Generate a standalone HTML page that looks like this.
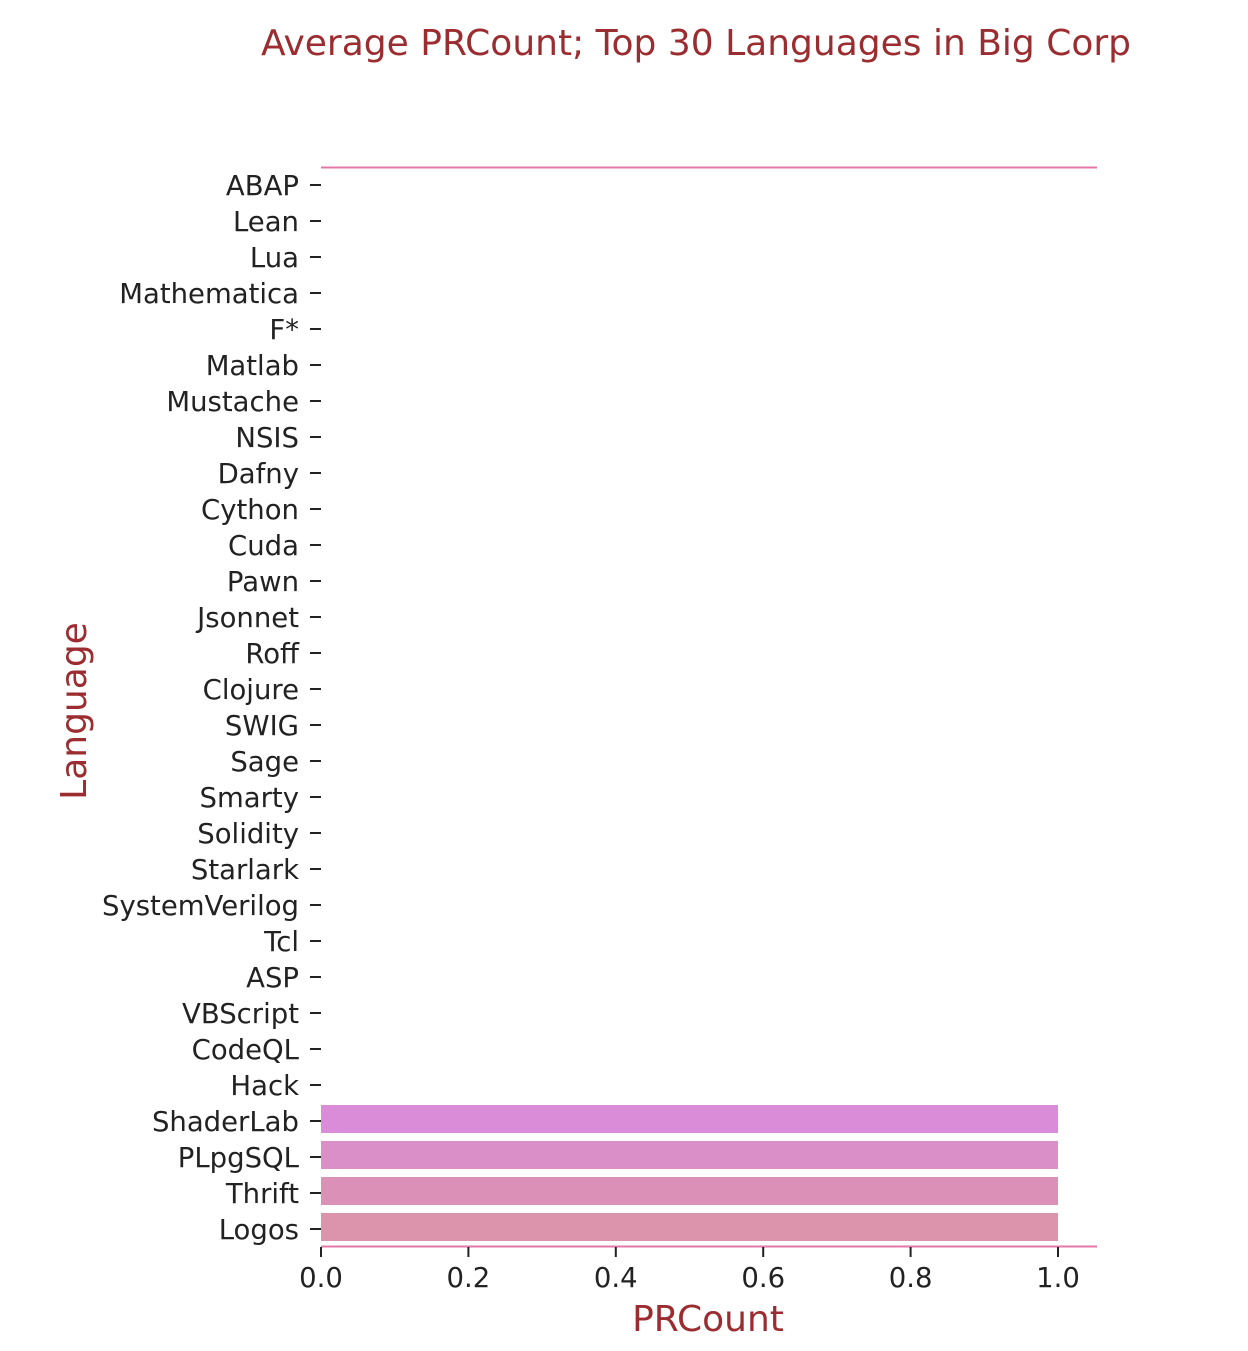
<!DOCTYPE html>
<html><head><meta charset="utf-8"><style>
body{margin:0;background:#fff;}
svg text{font-family:"DejaVu Sans","Liberation Sans",sans-serif;}
</style></head><body>
<svg id="chart" width="1248" height="1346" xmlns="http://www.w3.org/2000/svg">
<text x="696" y="55" text-anchor="middle" font-size="36" fill="#9b2d30">Average PRCount; Top 30 Languages in Big Corp</text>
<text transform="translate(86,711) rotate(-90)" text-anchor="middle" font-size="36" fill="#9b2d30">Language</text>
<text x="708" y="1331" text-anchor="middle" font-size="36" fill="#9b2d30">PRCount</text>
<line x1="321" y1="167.5" x2="1097" y2="167.5" stroke="#e377a8" stroke-width="2"/>
<line x1="321" y1="1246.5" x2="1097" y2="1246.5" stroke="#e377a8" stroke-width="2"/>
<g id="bars"></g><g id="ticks"></g>
</svg>
<script>
const categories=["ABAP","Lean","Lua","Mathematica","F*","Matlab","Mustache","NSIS","Dafny","Cython","Cuda","Pawn","Jsonnet","Roff","Clojure","SWIG","Sage","Smarty","Solidity","Starlark","SystemVerilog","Tcl","ASP","VBScript","CodeQL","Hack","ShaderLab","PLpgSQL","Thrift","Logos"];
const values=[0,0,0,0,0,0,0,0,0,0,0,0,0,0,0,0,0,0,0,0,0,0,0,0,0,0,1,1,1,1];
const colors=["#da8cd8","#db8fc8","#db90b8","#db94ac"];
const xTicks=[0,0.2,0.4,0.6,0.8,1.0];
const xTickLabels=["0.0","0.2","0.4","0.6","0.8","1.0"];
const NS="http://www.w3.org/2000/svg";
const x=v=>321+v*737;
const y=i=>185+i*36;
const bars=document.getElementById('bars'),ticks=document.getElementById('ticks');
categories.forEach((c,i)=>{
  if(values[i]>0){
    const r=document.createElementNS(NS,'rect');
    r.setAttribute('x',x(0));r.setAttribute('y',y(i)-16);
    r.setAttribute('width',x(values[i])-x(0));r.setAttribute('height',28);
    r.setAttribute('fill',colors[(i-26+colors.length)%colors.length]);
    
    
    bars.appendChild(r);
  }
  const l=document.createElementNS(NS,'line');
  l.setAttribute('x1',310);l.setAttribute('x2',321);l.setAttribute('y1',y(i));l.setAttribute('y2',y(i));
  l.setAttribute('stroke','#222');l.setAttribute('stroke-width','2');
  
  
  ticks.appendChild(l);
  const t=document.createElementNS(NS,'text');
  t.setAttribute('x',299);t.setAttribute('y',y(i)+10);t.setAttribute('text-anchor','end');
  t.setAttribute('font-size','27.5');t.setAttribute('fill','#222');
  t.textContent=c;
  
  
  ticks.appendChild(t);
});
xTicks.forEach((v,i)=>{
  const l=document.createElementNS(NS,'line');
  l.setAttribute('x1',x(v));l.setAttribute('x2',x(v));l.setAttribute('y1',1247);l.setAttribute('y2',1257);
  l.setAttribute('stroke','#222');l.setAttribute('stroke-width','2');
  
  
  ticks.appendChild(l);
  const t=document.createElementNS(NS,'text');
  t.setAttribute('x',x(v));t.setAttribute('y',1287);t.setAttribute('text-anchor','middle');
  t.setAttribute('font-size','27.5');t.setAttribute('fill','#222');
  t.textContent=xTickLabels[i];
  
  
  ticks.appendChild(t);
});
</script>
</body></html>
